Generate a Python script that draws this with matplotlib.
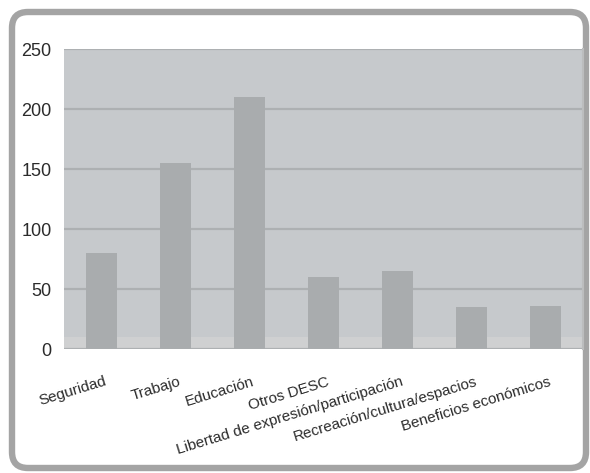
import matplotlib.pyplot as plt
import matplotlib.transforms as mtransforms
from matplotlib.patches import FancyBboxPatch, Rectangle

plt.rcParams["font.family"] = ["Liberation Sans", "DejaVu Sans"]

# Data
categories = [
    "Seguridad",
    "Trabajo",
    "Educación",
    "Otros DESC",
    "Libertad de expresión/participación",
    "Recreación/cultura/espacios",
    "Beneficios económicos",
]
values = [80, 155, 210, 60, 65, 35, 36]
y_ticks = [0, 50, 100, 150, 200, 250]

fig = plt.figure(figsize=(5.9, 4.73), dpi=100)

# -------- Rounded frame around everything (pixel coordinates) --------
bg = fig.add_axes([0, 0, 1, 1], zorder=0)
bg.set_xlim(0, 590)
bg.set_ylim(473, 0)
bg.axis("off")
frame = FancyBboxPatch((12, 12), 574, 456,
                       boxstyle="round,pad=0,rounding_size=16",
                       facecolor="white", edgecolor="#a4a4a4", linewidth=4.6)
bg.add_patch(frame)

# -------- Bar chart --------
ax = fig.add_axes([64 / 590, 1 - 349 / 473, 519 / 590, 300 / 473], zorder=1)
ax.set_facecolor("#c6c9cc")

# light "floor" strip at the bottom of the plot area
ax.add_patch(Rectangle((0, 0), 1, 0.04, transform=ax.transAxes,
                       facecolor="#cfd0d1", edgecolor="none", zorder=0.5))

x = range(len(categories))
ax.bar(x, values, width=0.42, color="#a9acae", zorder=2)

ax.set_xlim(-0.5, len(categories) - 0.5)
ax.set_ylim(0, 250)
ax.set_yticks(y_ticks)
ax.yaxis.grid(True, color="#adb0b2", linewidth=1.6, zorder=1)
ax.set_axisbelow(True)

for side in ["top", "left", "bottom"]:
    ax.spines[side].set_visible(False)
ax.spines["right"].set_color("#bcbdbe")
ax.spines["right"].set_linewidth(1.5)

ax.tick_params(axis="y", length=0, pad=9, labelsize=13, labelcolor="#2b2b2b")
ax.tick_params(axis="x", length=0, pad=26, labelsize=11, labelcolor="#2b2b2b")

ax.set_xticks(list(x))
ax.set_xticklabels(categories, rotation=17, ha="right", va="baseline",
                   rotation_mode="anchor")
shift = mtransforms.ScaledTranslation(6 / 100, 0, fig.dpi_scale_trans)
for lbl in ax.get_xticklabels():
    lbl.set_transform(lbl.get_transform() + shift)

plt.savefig("out.png", dpi=100)
